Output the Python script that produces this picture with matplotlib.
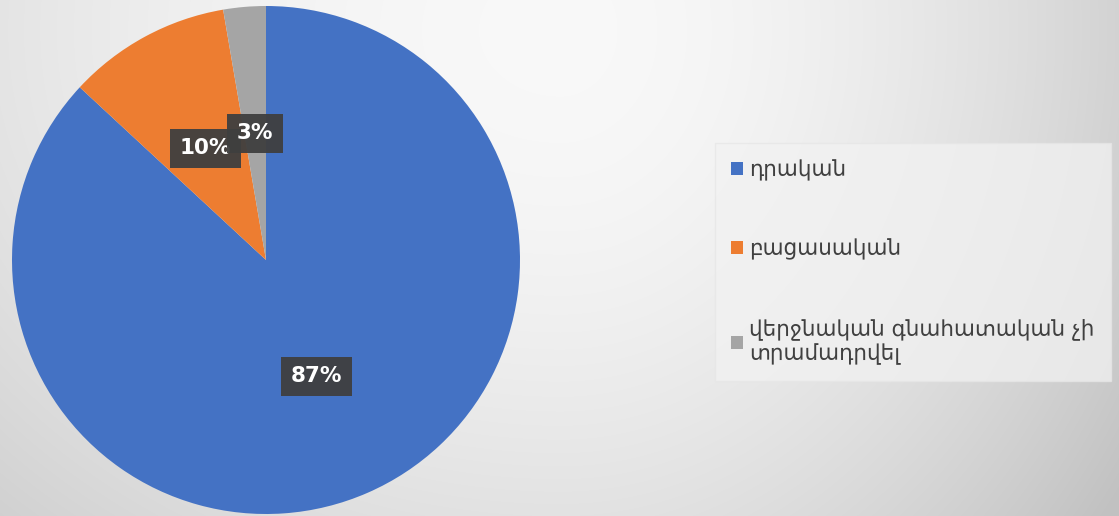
import numpy as np
import matplotlib.pyplot as plt
from matplotlib.patches import Patch

# data
categories = ['դրական', 'բացասական', 'վերջնական գնահատական չի\nտրամադրվել']
shares = [86.9, 10.4, 2.7]
colors = ['#4472C4', '#ED7D31', '#A5A5A5']

W, H = 1119, 516
fig = plt.figure(figsize=(W / 100, H / 100), dpi=100)

# soft radial grey background, lightest just right of the pie top
bg = fig.add_axes([0, 0, 1, 1])
yy, xx = np.mgrid[0:H, 0:W]
dx = (xx - 560) / np.where(xx > 560, 560.0, 800.0)
dy = (yy - 30) / 650.0
d = np.sqrt(dx ** 2 + dy ** 2)
shade = np.clip(0.975 - 0.15 * d ** 1.8, 0.76, 1)
bg.imshow(np.dstack([shade] * 3), aspect='auto', extent=[0, 1, 0, 1])
bg.axis('off')

# pie
ax = fig.add_axes([12 / W, 2 / H, 508 / W, 508 / H])
wedges, texts, autotexts = ax.pie(
    shares, colors=colors, startangle=90, counterclock=False,
    autopct='%.0f%%', pctdistance=0.5,
    wedgeprops=dict(linewidth=0))
for t in autotexts:
    t.set_color('white')
    t.set_fontsize(15.5)
    t.set_fontweight('bold')
    t.set_bbox(dict(boxstyle='square,pad=0.45', facecolor='#3f3f3f',
                    edgecolor='none', alpha=0.95))
ax.set_xlim(-1, 1)
ax.set_ylim(-1, 1)
ax.set_aspect('equal')
ax.axis('off')

# legend
handles = [Patch(facecolor=c, edgecolor='none') for c in colors]
leg = fig.legend(handles, categories, loc='upper left',
                 bbox_to_anchor=(715 / W, 1 - 143 / H),
                 fontsize=15.5, frameon=True, fancybox=False,
                 handlelength=0.55, handleheight=0.55, handletextpad=0.3,
                 labelspacing=2.7, borderpad=0.75, borderaxespad=0)
frame = leg.get_frame()
frame.set_facecolor('#f2f2f2')
frame.set_edgecolor('#e6e6e6')
frame.set_alpha(0.75)
for t in leg.get_texts():
    t.set_color('#404040')

fig.savefig('out.png', dpi=100)
